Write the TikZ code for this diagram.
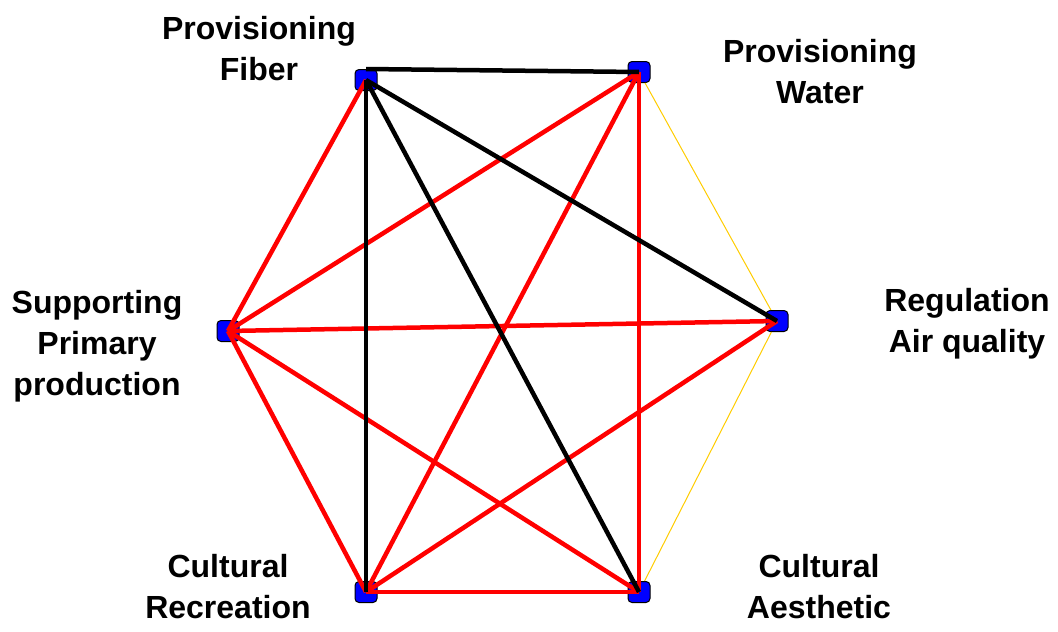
\documentclass[tikz,border=0pt]{standalone}
\usepackage{fontspec}
\setmainfont{Liberation Sans}
\definecolor{linkyellow}{RGB}{255,204,0}
\tikzstyle{every node}=[font=\bfseries\fontsize{32}{41}\selectfont]
\tikzstyle{svc}=[draw=black, fill=blue, rounded corners=4pt, minimum width=22pt, minimum height=21pt, inner sep=0pt, line width=1pt]
\tikzstyle{lbl}=[align=center, anchor=base, inner sep=0pt]

\begin{document}
\begin{tikzpicture}[x=1pt, y=-1pt]
            % 画布
            \useasboundingbox (0,0) rectangle (1058,632);

            % 服务节点
            \node[svc] (fiber) at (366,80) {};
            \node[svc] (water) at (639,72) {};
            \node[svc] (air) at (777,321) {};
            \node[svc] (primary) at (228,331) {};
            \node[svc] (recreation) at (366,592) {};
            \node[svc] (aesthetic) at (639,592) {};

            % 标签
            \node[lbl] (fiberlbl) at (259,80) {Provisioning\\Fiber};
            \node[lbl] (waterlbl) at (820,103) {Provisioning\\Water};
            \node[lbl] (airlbl) at (967,352) {Regulation\\Air quality};
            \node[lbl] (primarylbl) at (97,395) {Supporting\\Primary\\production};
            \node[lbl] (recreationlbl) at (228,618) {Cultural\\Recreation};
            \node[lbl] (aestheticlbl) at (819,618) {Cultural\\Aesthetic};

            % 弱联系
            \draw[linkyellow, line width=1pt] (water) -- (air);
            \draw[linkyellow, line width=1pt] (air) -- (aesthetic);

            % 正联系
            \draw[red, line width=4.5pt] (fiber.center) -- (primary.center);
            \draw[red, line width=4.5pt] (water.center) -- (primary.center);
            \draw[red, line width=4.5pt] (water.center) -- (recreation.center);
            \draw[red, line width=4.5pt] (water.center) -- (aesthetic.center);
            \draw[red, line width=4.5pt] (air.center) -- (primary.center);
            \draw[red, line width=4.5pt] (air.center) -- (recreation.center);
            \draw[red, line width=4.5pt] (primary.center) -- (recreation.center);
            \draw[red, line width=4.5pt] (primary.center) -- (aesthetic.center);
            \draw[red, line width=4.5pt] (recreation.center) -- (aesthetic.center);

            % 负联系
            \draw[black, line width=4.5pt] (fiber.north) -- (water.center);
            \draw[black, line width=4.5pt] (fiber.center) -- (air.center);
            \draw[black, line width=4.5pt] (fiber.center) -- (aesthetic.center);
            \draw[black, line width=4.5pt] (fiber.center) -- (recreation.center);
        \end{tikzpicture}
\end{document}
